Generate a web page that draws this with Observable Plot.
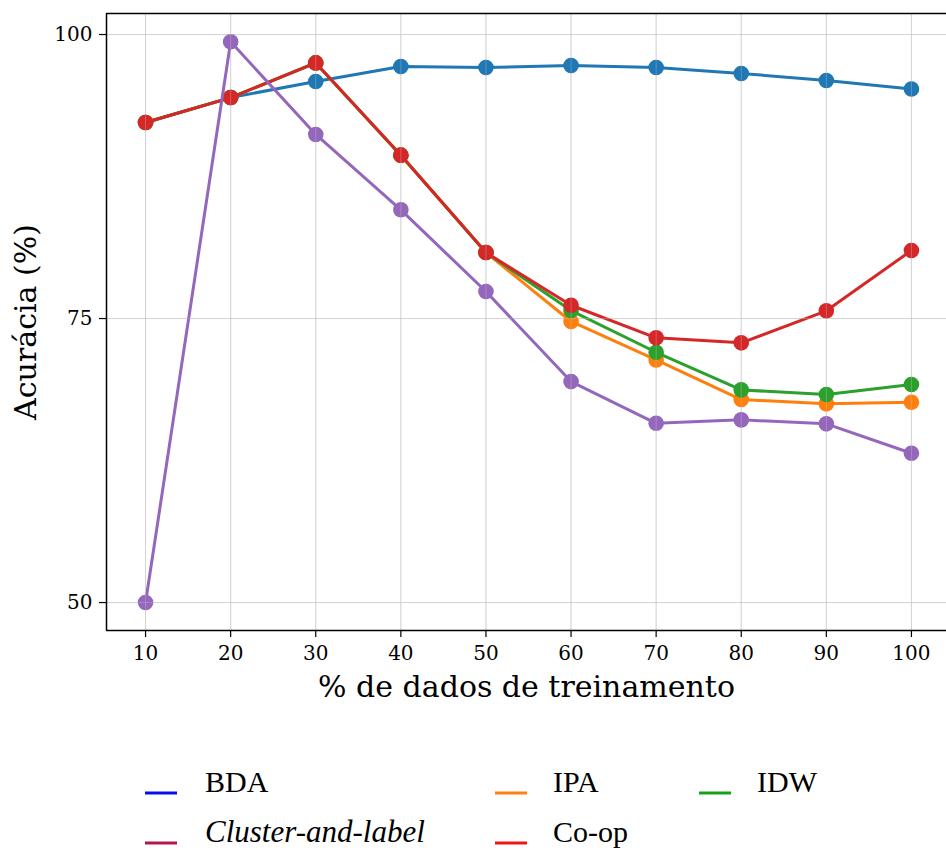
<!DOCTYPE html>
<html>
<head>
<meta charset="utf-8">
<script src="https://cdn.jsdelivr.net/npm/d3@7"></script>
<script src="https://cdn.jsdelivr.net/npm/@observablehq/plot@0.6"></script>
<style>
  html, body { margin: 0; padding: 0; background: white; overflow: hidden; }
  #chart svg { display: block; }
  #legend { display: block; }
</style>
</head>
<body>
<div id="chart"></div>
<svg id="legend" width="946" height="131"></svg>
<script>
// ---- data ----
const trainPct = [10, 20, 30, 40, 50, 60, 70, 80, 90, 100];
const seriesNames = ["BDA", "IPA", "IDW", "Co-op", "Cluster-and-label"];
const bda     = [92.25, 94.45, 95.87, 97.18, 97.10, 97.27, 97.10, 96.57, 95.95, 95.20];
const ipa     = [92.25, 94.45, 97.50, 89.38, 80.81, 74.74, 71.36, 67.87, 67.49, 67.63];
const idw     = [92.25, 94.45, 97.50, 89.38, 80.81, 75.70, 72.03, 68.72, 68.31, 69.19];
const coop    = [92.25, 94.45, 97.50, 89.38, 80.81, 76.17, 73.30, 72.86, 75.68, 80.99];
const cluster = [50.00, 99.36, 91.20, 84.57, 77.38, 69.45, 65.78, 66.08, 65.73, 63.14];
const lineColors = ["#1f77b4", "#ff7f0e", "#2ca02c", "#d62728", "#9467bd"];
const yTicks = [50, 75, 100];
const xDomain = [5.41, 104.12];
const yDomain = [47.54, 101.85];
const xLabel = "% de dados de treinamento";
const yLabel = "Acurácia (%)";

// legend (order and colors as in the reference legend)
const legendNames = ["BDA", "IPA", "IDW", "Cluster-and-label", "Co-op"];
const legendColors = ["#0a0af0", "#ff7f0e", "#17a017", "#b8124f", "#f21414"];
const legendItalic = [false, false, false, true, false];

const valuesBySeries = [bda, ipa, idw, coop, cluster];
const rows = seriesNames.map((name, i) =>
  trainPct.map((x, j) => ({series: name, x, y: valuesBySeries[i][j]})));

const seriesMarks = [];
rows.forEach((data, i) => {
  seriesMarks.push(Plot.line(data, {x: "x", y: "y", stroke: lineColors[i], strokeWidth: 3}));
  seriesMarks.push(Plot.dot(data, {x: "x", y: "y", r: 7.8, fill: lineColors[i], stroke: null}));
});

const chart = Plot.plot({
  width: 946,
  height: 720,
  marginLeft: 106,
  marginRight: 0,
  marginTop: 13,
  marginBottom: 90,
  style: {background: "white", color: "black", fontFamily: "DejaVu Serif"},
  x: {domain: xDomain},
  y: {domain: yDomain},
  marks: [
    Plot.ruleX(trainPct, {stroke: "#b8b8b8", strokeOpacity: 0.5, strokeWidth: 1}),
    Plot.ruleY(yTicks, {stroke: "#b8b8b8", strokeOpacity: 0.5, strokeWidth: 1}),
    ...seriesMarks,
    Plot.ruleX(trainPct, {stroke: "#c8c8c8", strokeOpacity: 0.35, strokeWidth: 1}),
    Plot.ruleY(yTicks, {stroke: "#c8c8c8", strokeOpacity: 0.35, strokeWidth: 1}),
    Plot.ruleY([yDomain[0], yDomain[1]], {stroke: "black", strokeWidth: 1.5}),
    Plot.ruleX([xDomain[0]], {stroke: "black", strokeWidth: 1.5}),
    Plot.axisX({ticks: trainPct, tickSize: 7, tickPadding: 8, fontSize: 20, fontFamily: "DejaVu Serif", tickFormat: d => String(d), label: null, strokeWidth: 1.2}),
    Plot.axisY({ticks: yTicks, tickSize: 7, tickPadding: 7, fontSize: 20, fontFamily: "DejaVu Serif", tickFormat: d => String(d), label: null, strokeWidth: 1.2}),
    Plot.text([xLabel], {text: d => d, frameAnchor: "bottom", dy: 66, fontSize: 30, fontFamily: "DejaVu Serif", fill: "black"}),
    Plot.text([yLabel], {text: d => d, frameAnchor: "left", textAnchor: "middle", dx: -80, rotate: -90, fontSize: 30, fontFamily: "DejaVu Serif", fill: "black"})
  ]
});
document.getElementById("chart").appendChild(chart);

// ---- legend ----
const lg = d3.select("#legend");
const colSwatch = [145, 495, 699];
const colText = [205, 553, 757];
const rowY = [72, 122];
legendNames.forEach((name, i) => {
  const col = i < 3 ? i : i - 3;
  const row = i < 3 ? 0 : 1;
  lg.append("line")
    .attr("x1", colSwatch[col]).attr("x2", colSwatch[col] + 32)
    .attr("y1", rowY[row] + 1).attr("y2", rowY[row] + 1)
    .attr("stroke", legendColors[i]).attr("stroke-width", 3);
  lg.append("text")
    .attr("x", colText[col]).attr("y", rowY[row])
    .attr("font-family", "'Liberation Serif', 'Times New Roman', serif")
    .attr("font-size", i === 3 ? 31 : 30)
    .attr("font-style", legendItalic[i] ? "italic" : "normal")
    .attr("fill", "black")
    .text(name);
});
</script>
</body>
</html>
